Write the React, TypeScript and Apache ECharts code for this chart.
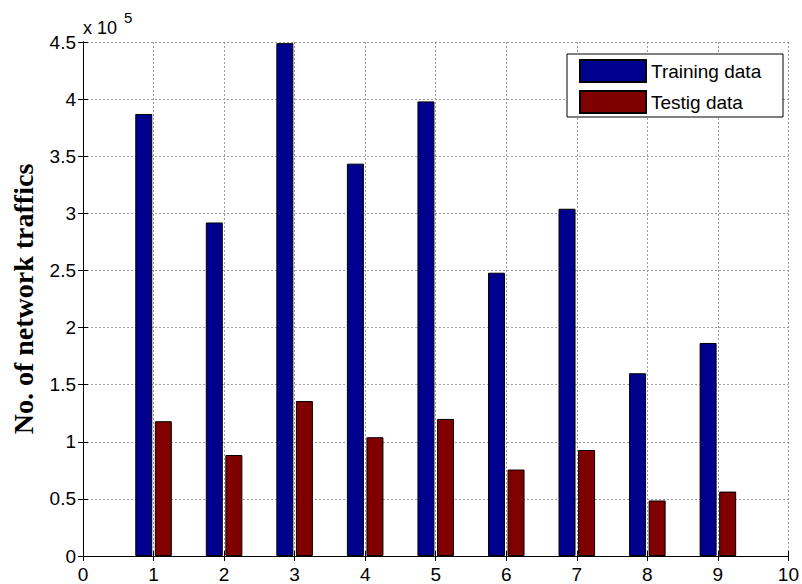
import React, { useEffect, useRef } from "react";
import * as echarts from "echarts";

const xPositions = [1, 2, 3, 4, 5, 6, 7, 8, 9];
const trainingData = [3.87, 2.92, 4.49, 3.435, 3.98, 2.48, 3.04, 1.6, 1.865];
const testingData = [1.18, 0.884, 1.357, 1.04, 1.2, 0.757, 0.928, 0.486, 0.564];
const seriesNames = ["Training data", "Testig data"];
const seriesColors = ["#00008f", "#800000"];
const yAxisTitle = "No. of network traffics";
const exponentBase = "x 10";
const exponentPower = "5";

const FONT = "Liberation Sans, Arial, sans-serif";

export default function App() {
  const ref = useRef<HTMLDivElement>(null);
  useEffect(() => {
    if (!ref.current) return;
    const chart = echarts.init(ref.current, undefined, { renderer: "svg" });
    const gridLine = { show: true, lineStyle: { color: "#9a9a9a", type: [2, 2] as any, width: 1 } };
    const axisLine = { show: true, lineStyle: { color: "#000", width: 1 } };
    const tick = { show: true, inside: true, length: 5, lineStyle: { color: "#000" } };
    const labelStyle = { color: "#000", fontFamily: FONT, fontSize: 19 };
    chart.setOption({
      animation: false,
      backgroundColor: "#fff",
      grid: { left: 83, top: 42, right: 11, bottom: 24, containLabel: false },
      xAxis: [
        {
          type: "value", min: 0, max: 10, interval: 1,
          axisLine, axisTick: tick, splitLine: gridLine,
          axisLabel: { ...labelStyle, margin: 9 },
        },
        {
          type: "value", position: "top", min: 0, max: 10, interval: 1,
          axisLine, axisTick: tick, splitLine: { show: false }, axisLabel: { show: false },
        },
      ],
      yAxis: [
        {
          type: "value", min: 0, max: 4.5, interval: 0.5,
          axisLine, axisTick: tick, splitLine: gridLine,
          axisLabel: { ...labelStyle, margin: 7, formatter: (v: number) => String(v) },
          name: yAxisTitle, nameLocation: "middle", nameGap: 46,
          nameTextStyle: { fontFamily: "Liberation Serif, Times New Roman, serif", fontWeight: "bold", fontSize: 28, color: "#000" },
        },
        {
          type: "value", position: "right", min: 0, max: 4.5, interval: 0.5,
          axisLine, axisTick: tick, splitLine: { show: false }, axisLabel: { show: false },
        },
      ],
      legend: {
        left: 567, top: 54, orient: "vertical", z: 10,
        padding: [5, 10, 7, 12], itemWidth: 66, itemHeight: 22, itemGap: 7,
        icon: "rect",
        textStyle: { color: "#000", fontFamily: FONT, fontSize: 19 },
        data: seriesNames,
      },
      graphic: [
        {
          type: "rect", z: 5, shape: { x: 567, y: 54, width: 216, height: 63 },
          style: { fill: "#fff", stroke: "#000", lineWidth: 1 },
        },
        {
          type: "text", x: 83, y: 19, z: 5,
          style: { text: exponentBase, fill: "#000", font: `18px ${FONT}` },
        },
        {
          type: "text", x: 124, y: 10, z: 5,
          style: { text: exponentPower, fill: "#000", font: `15px ${FONT}` },
        },
      ],
      series: [
        {
          name: seriesNames[0], type: "bar", barWidth: 17, barGap: "15%",
          itemStyle: { color: seriesColors[0], borderColor: "#000", borderWidth: 1 },
          data: xPositions.map((x, i) => [x, trainingData[i]]),
        },
        {
          name: seriesNames[1], type: "bar", barWidth: 17, barGap: "15%",
          itemStyle: { color: seriesColors[1], borderColor: "#000", borderWidth: 1 },
          data: xPositions.map((x, i) => [x, testingData[i]]),
        },
      ],
    });
    return () => chart.dispose();
  }, []);
  return <div ref={ref} style={{ width: 802, height: 584, position: "absolute", left: 0, top: 0 }} />;
}
